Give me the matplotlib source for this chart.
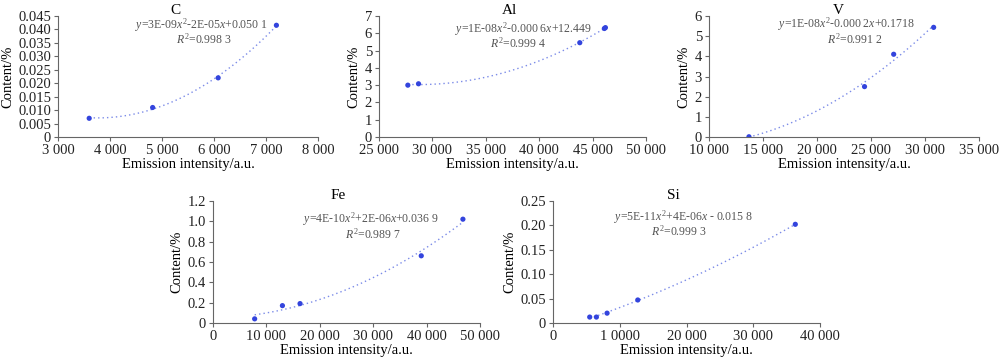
import numpy as np
import matplotlib
matplotlib.use("Agg")
from matplotlib import pyplot as plt
from matplotlib.ticker import FuncFormatter

plt.rcParams["font.family"] = ["Liberation Serif", "DejaVu Serif"]
plt.rcParams["mathtext.fontset"] = "custom"
plt.rcParams["mathtext.rm"] = "Liberation Serif"
plt.rcParams["mathtext.it"] = "Liberation Serif:italic"

# Messwerte je Element (Emissionsintensität / Gehalt)
elements = ["C", "Al", "V", "Fe", "Si"]

c_x = [3600, 4820, 6080, 7200]
c_y = [0.007, 0.011, 0.022, 0.0415]

al_x = [27700, 28700, 43800, 46100, 46200]
al_y = [3.0, 3.08, 5.45, 6.27, 6.32]

v_x = [13700, 24400, 27100, 30800]
v_y = [0.02, 2.5, 4.1, 5.43]

fe_x = [7800, 13000, 16300, 39000, 46800]
fe_y = [0.04, 0.17, 0.19, 0.66, 1.02]

si_x = [5500, 6500, 8100, 12700, 36300]
si_y = [0.012, 0.012, 0.02, 0.047, 0.202]

equations = [
    r"$\mathit{y}$=3E-09$\mathit{x}^2$-2E-05$\mathit{x}$+0.050 1",
    r"$\mathit{y}$=1E-08$\mathit{x}^2$-0.000 6$\mathit{x}$+12.449",
    r"$\mathit{y}$=1E-08$\mathit{x}^2$-0.000 2$\mathit{x}$+0.1718",
    r"$\mathit{y}$=4E-10$\mathit{x}^2$+2E-06$\mathit{x}$+0.036 9",
    r"$\mathit{y}$=5E-11$\mathit{x}^2$+4E-06$\mathit{x}$ - 0.015 8",
]
r_squared = ["0.998 3", "0.999 4", "0.991 2", "0.989 7", "0.999 3"]

x_ticks = [
    [3000, 4000, 5000, 6000, 7000, 8000],
    [25000, 30000, 35000, 40000, 45000, 50000],
    [10000, 15000, 20000, 25000, 30000, 35000],
    [0, 10000, 20000, 30000, 40000, 50000],
    [0, 10000, 20000, 30000, 40000],
]
x_tick_labels = [
    ["3 000", "4 000", "5 000", "6 000", "7 000", "8 000"],
    ["25 000", "30 000", "35 000", "40 000", "45 000", "50 000"],
    ["10 000", "15 000", "20 000", "25 000", "30 000", "35 000"],
    ["0", "10 000", "20 000", "30 000", "40 000", "50 000"],
    ["0", "1 0000", "20 000", "30 000", "40 000"],
]
y_ticks = [
    [0, 0.005, 0.01, 0.015, 0.02, 0.025, 0.03, 0.035, 0.04, 0.045],
    [0, 1, 2, 3, 4, 5, 6, 7],
    [0, 1, 2, 3, 4, 5, 6],
    [0, 0.2, 0.4, 0.6, 0.8, 1.0, 1.2],
    [0, 0.05, 0.1, 0.15, 0.2, 0.25],
]
y_decimals = [3, 0, 0, 1, 2]

data = [(c_x, c_y), (al_x, al_y), (v_x, v_y), (fe_x, fe_y), (si_x, si_y)]

# Achsenpositionen [links, unten, breite, höhe]
positions = [
    [0.058, 0.619, 0.260, 0.337],
    [0.379, 0.619, 0.267, 0.337],
    [0.709, 0.619, 0.270, 0.337],
    [0.213, 0.103, 0.267, 0.339],
    [0.553, 0.103, 0.267, 0.339],
]
title_x = [0.45, 0.49, 0.48, 0.47, 0.45]
eq_pos = [(0.55, 0.925, 0.56), (0.54, 0.89, 0.52), (0.51, 0.93, 0.54),
          (0.59, 0.85, 0.60), (0.49, 0.87, 0.47)]

marker_color = "#3344dd"
line_color = "#7b8be8"
text_gray = "#555555"
axis_gray = "#666666"

fig = plt.figure(figsize=(10, 3.6), dpi=100)

for i, (xs, ys) in enumerate(data):
    ax = fig.add_axes(positions[i])
    xs = np.array(xs, dtype=float)
    ys = np.array(ys, dtype=float)

    # Trendlinie 2. Ordnung
    coef = np.polyfit(xs, ys, 2)
    xf = np.linspace(xs.min(), xs.max(), 200)
    ax.plot(xf, np.polyval(coef, xf), linestyle=(0, (1, 2.2)),
            color=line_color, linewidth=1.0, zorder=2)
    ax.scatter(xs, ys, s=14, color=marker_color, zorder=3, edgecolors="none")

    ax.set_xlim(x_ticks[i][0], x_ticks[i][-1])
    ax.set_ylim(y_ticks[i][0], y_ticks[i][-1])
    ax.set_xticks(x_ticks[i])
    ax.set_xticklabels(x_tick_labels[i])
    ax.set_yticks(y_ticks[i])
    d = y_decimals[i]
    ax.yaxis.set_major_formatter(
        FuncFormatter(lambda v, p, d=d: "0" if abs(v) < 1e-12 else f"{v:.{d}f}"))

    for side in ["top", "right"]:
        ax.spines[side].set_visible(False)
    for side in ["left", "bottom"]:
        ax.spines[side].set_color(axis_gray)
        ax.spines[side].set_linewidth(0.8)
    ax.tick_params(axis="both", direction="out", length=3, width=0.8,
                   color=axis_gray, labelsize=10.5, pad=2, labelcolor="#222222")

    ax.set_xlabel("Emission intensity/a.u.", fontsize=10.5, labelpad=1)
    ax.set_ylabel("Content/%", fontsize=10.5, labelpad=3)

    ax.text(title_x[i], 1.045, elements[i], transform=ax.transAxes,
            ha="center", va="center", fontsize=11)
    ex, ey, rx = eq_pos[i]
    ax.text(ex, ey, equations[i], transform=ax.transAxes, ha="center",
            va="center", fontsize=8.5, color=text_gray)
    ax.text(rx, ey - 0.12, r"$\mathit{R}^2$=" + r_squared[i],
            transform=ax.transAxes, ha="center", va="center",
            fontsize=8.5, color=text_gray)

fig.savefig("out.png", dpi=100)
